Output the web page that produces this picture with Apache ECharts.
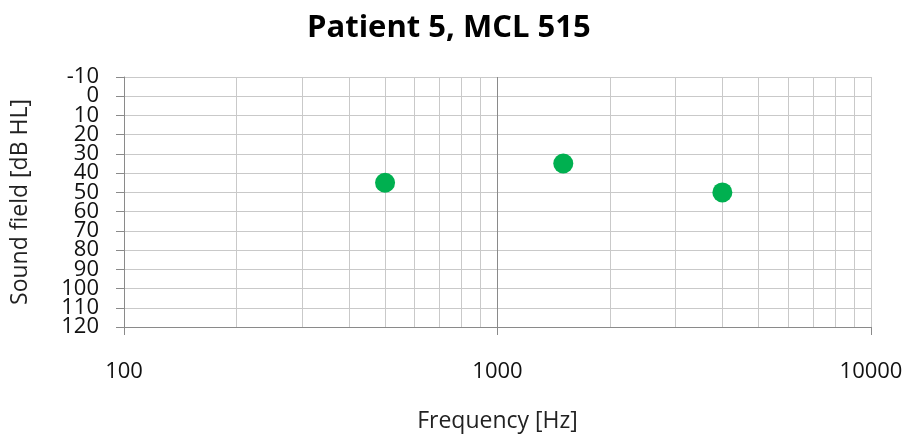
<!DOCTYPE html>
<html>
<head>
<meta charset="utf-8">
<script src="https://cdn.jsdelivr.net/npm/echarts@6/dist/echarts.min.js"></script>
<style>
  html, body { margin: 0; padding: 0; background: #fff; }
  #chart { width: 909px; height: 438px; }
</style>
</head>
<body>
<div id="chart"></div>
<script>
// Measured sound-field levels per test frequency
const frequencies = [500, 1500, 4000];      // Hz
const levels = [45, 35, 50];                 // dB HL

// Log-scale grid: intermediate frequencies get thin lines
const minorFrequencies = [200, 300, 400, 500, 600, 700, 800, 900,
                          2000, 3000, 4000, 5000, 6000, 7000, 8000, 9000];
const centreFrequency = 1000;

const yTicks = { min: -10, max: 120, step: 10 };
const xRange = { min: 100, max: 10000 };

const font = '"Open Sans", "Noto Sans", sans-serif';
const lightGrid = '#c9c9c9';
const darkLine = '#8a8a8a';
const labelText = { fontFamily: font, fontSize: 22, color: '#111' };

const chart = echarts.init(document.getElementById('chart'), null, { renderer: 'canvas' });

// The dB labels sit closer together than their text height, so the end labels
// and the inner labels are drawn by two overlaid axes sharing one scale.
const isEnd = v => v === yTicks.min || v === yTicks.max;
const levelAxisBase = {
  type: 'value',
  gridIndex: 0,
  position: 'left',
  inverse: true,
  min: yTicks.min,
  max: yTicks.max,
  interval: yTicks.step
};

chart.setOption({
  animation: false,
  backgroundColor: '#ffffff',
  title: {
    text: 'Patient 5, MCL 515',
    left: 302,
    top: 8,
    textStyle: { fontFamily: font, fontWeight: 'bold', fontSize: 31, color: '#000' }
  },
  grid: { left: 124, right: 38, top: 77, bottom: 111, containLabel: false },
  xAxis: {
    type: 'log',
    logBase: 10,
    min: xRange.min,
    max: xRange.max,
    name: 'Frequency [Hz]',
    nameLocation: 'middle',
    nameGap: 83,
    nameTextStyle: { fontFamily: font, fontSize: 23, color: '#222' },
    axisLine: { show: true, onZero: false, lineStyle: { color: darkLine, width: 1 } },
    axisTick: { show: true, length: 8, inside: false, lineStyle: { color: darkLine } },
    axisLabel: Object.assign({ margin: 34, formatter: v => String(Math.round(v)) }, labelText),
    splitLine: { show: true, lineStyle: { color: lightGrid, width: 1 } },
    minorTick: { show: false },
    minorSplitLine: { show: false }
  },
  yAxis: [
    Object.assign({}, levelAxisBase, {
      name: 'Sound field [dB HL]',
      nameLocation: 'middle',
      nameGap: 92,
      nameRotate: 90,
      nameTextStyle: { fontFamily: font, fontSize: 23, color: '#222' },
      axisLine: { show: true, onZero: false, lineStyle: { color: darkLine, width: 1 } },
      axisTick: { show: true, length: 8, inside: false, lineStyle: { color: darkLine } },
      axisLabel: Object.assign({
        margin: 25, showMinLabel: true, showMaxLabel: true,
        formatter: v => (isEnd(v) ? String(v) : '')
      }, labelText),
      splitLine: { show: true, lineStyle: { color: lightGrid, width: 1 } }
    }),
    Object.assign({}, levelAxisBase, {
      axisLine: { show: false, onZero: false },
      axisTick: { show: false },
      splitLine: { show: false },
      axisLabel: Object.assign({
        margin: 25, showMinLabel: false, showMaxLabel: false,
        formatter: v => (isEnd(v) ? '' : String(v))
      }, labelText)
    })
  ],
  series: [
    {
      type: 'line',
      data: [],
      silent: true,
      markLine: {
        silent: true,
        symbol: 'none',
        label: { show: false },
        lineStyle: { type: 'solid', color: lightGrid, width: 1 },
        data: minorFrequencies.map(f => ({ xAxis: f }))
      }
    },
    {
      type: 'line',
      data: [],
      silent: true,
      markLine: {
        silent: true,
        symbol: 'none',
        label: { show: false },
        lineStyle: { type: 'solid', color: darkLine, width: 1 },
        data: [{ xAxis: centreFrequency }]
      }
    },
    {
      name: 'MCL',
      type: 'scatter',
      symbol: 'circle',
      symbolSize: 20,
      itemStyle: { color: '#00b050', opacity: 1 },
      data: frequencies.map((f, i) => [f, levels[i]]),
      z: 5
    }
  ]
});
</script>
</body>
</html>
